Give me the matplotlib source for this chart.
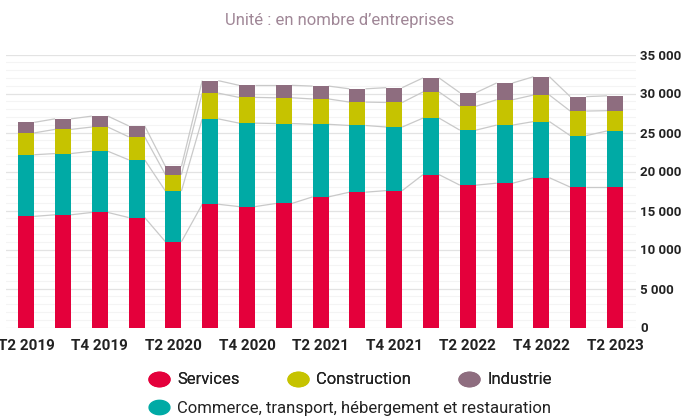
import matplotlib
matplotlib.use("Agg")
import matplotlib.pyplot as plt
import numpy as np
from matplotlib.lines import Line2D
from matplotlib.path import Path
from matplotlib.ticker import FuncFormatter, MultipleLocator

# ── Data ─────────────────────────────────────────────────────────────────────
quarters = ["T2 2019", "T3 2019", "T4 2019", "T1 2020", "T2 2020", "T3 2020",
            "T4 2020", "T1 2021", "T2 2021", "T3 2021", "T4 2021", "T1 2022",
            "T2 2022", "T3 2022", "T4 2022", "T1 2023", "T2 2023"]
services     = [14250, 14450, 14750, 14100, 11000, 15800, 15500, 15900, 16750,
                17350, 17550, 19600, 18250, 18500, 19200, 18000, 18000]
commerce     = [7900, 7850, 7850, 7400, 6500, 10950, 10700, 10250, 9300,
                8550, 8150, 7250, 7050, 7450, 7200, 6600, 7200]
construction = [2800, 3100, 3100, 2950, 2100, 3300, 3300, 3300, 3250,
                3000, 3150, 3350, 3050, 3250, 3400, 3150, 2600]
industrie    = [1350, 1350, 1400, 1400, 1050, 1600, 1550, 1600, 1650,
                1700, 1900, 1800, 1750, 2150, 2350, 1850, 1900]

series = [
    ("Services", services, "#e4003b"),
    ("Commerce, transport, hébergement et restauration", commerce, "#00aaa5"),
    ("Construction", construction, "#c6c300"),
    ("Industrie", industrie, "#8e6d7f"),
]

plt.rcParams["font.family"] = ["Roboto", "DejaVu Sans"]

# ── Figure ───────────────────────────────────────────────────────────────────
W, H = 683, 417
fig = plt.figure(figsize=(W / 100, H / 100), dpi=100, facecolor="white")
ax = fig.add_axes([6 / W, 89.5 / H, 630 / W, (327.5 - 54.5) / H])

x = np.arange(len(quarters))
bw = 0.435
bottom = np.zeros(len(quarters))
tops = []
for name, vals, color in series:
    vals = np.array(vals, dtype=float)
    ax.bar(x, vals, bw, bottom=bottom, color=color, zorder=3, label=name)
    bottom = bottom + vals
    tops.append(bottom.copy())

# thin grey lines joining the segment tops of neighbouring bars
for top in tops:
    for i in range(len(x) - 1):
        ax.plot([x[i] + bw / 2, x[i + 1] - bw / 2], [top[i], top[i + 1]],
                color="#c9c9c9", lw=0.9, zorder=2, solid_capstyle="butt")

ax.set_xlim(-0.55, len(x) - 1 + 0.57)
ax.set_ylim(0, 35000)
ax.yaxis.set_major_locator(MultipleLocator(5000))
ax.yaxis.set_minor_locator(MultipleLocator(1000))
ax.yaxis.set_major_formatter(FuncFormatter(lambda v, _: f"{v:,.0f}".replace(",", " ")))
ax.yaxis.tick_right()
ax.grid(axis="y", which="major", color="#e3e3e3", lw=0.9, zorder=0)
ax.grid(axis="y", which="minor", color="#f4f4f4", lw=0.8, zorder=0)
ax.set_axisbelow(True)

ax.set_xticks(x[::2])
ax.set_xticklabels(quarters[::2])
ax.tick_params(axis="both", which="both", length=0, colors="#222222")
ax.tick_params(axis="x", pad=8, labelsize=11)
ax.tick_params(axis="y", pad=3, labelsize=9.5)
for lbl in ax.get_xticklabels() + ax.get_yticklabels():
    lbl.set_fontweight("bold")
for spine in ax.spines.values():
    spine.set_visible(False)

fig.text(340 / W, 1 - 20 / H, "Unité : en nombre d’entreprises",
         ha="center", va="center", fontsize=12, color="#a08797")

# ── Legend (two rows, pill-shaped markers) ───────────────────────────────────
t = np.linspace(0, 2 * np.pi, 60)
pill = Path(np.column_stack([1.45 * np.cos(t), np.sin(t)]))


def handle(color):
    return Line2D([], [], ls="none", marker=pill, markersize=15,
                  markerfacecolor=color, markeredgecolor=color)


by_name = {name: color for name, _, color in series}
row1 = ["Services", "Construction", "Industrie"]
row2 = ["Commerce, transport, hébergement et restauration"]
kw = dict(frameon=False, fontsize=12, handlelength=1.4, handletextpad=0.4,
          borderpad=0, borderaxespad=0, loc="center left",
          bbox_transform=fig.transFigure, labelcolor="#222222")
leg1 = fig.legend([handle(by_name[n]) for n in row1], row1, ncol=3,
                  columnspacing=2.8, bbox_to_anchor=(147 / W, 1 - 380 / H), **kw)
fig.add_artist(leg1)
fig.legend([handle(by_name[n]) for n in row2], row2,
           bbox_to_anchor=(147 / W, 1 - 408 / H), **kw)

fig.savefig("out.png", dpi=100, facecolor="white")
